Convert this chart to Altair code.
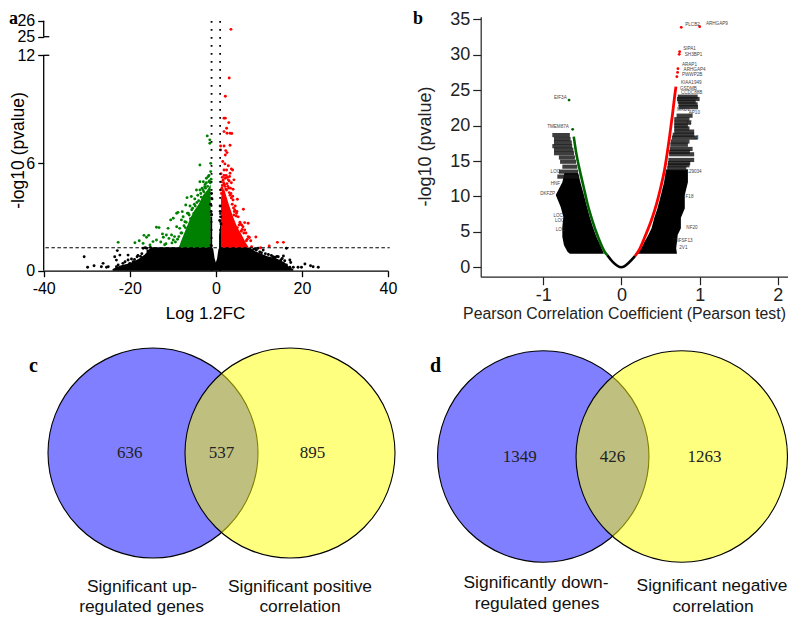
import altair as alt
import pandas as pd

# ---------- panel a values (log 1.2 FC, -log10 p) ----------
a_green_x = [-22.7,-18.8,-17.8,-16.9,-16.1,-16.7,-15.6,-15.3,-13.8,-13.2,-13.8,-14.6,-12.2,-11.5,-11.1,-10.3,-9.9,-10.5,-9.9,-9.1,-8.8,-7.8,-7.6,-8.0,-7.2,-9.1,-8.4,-7.0,-6.7,-5.7,-4.9,-3.7,-2.9,-2.2,-1.8,-1.2,-3.7,-1.2,-2.0,-1.4,-1.4,-2.6,-3.7,-4.5,-5.4,-6.4,-5.3,-4.2,-3.2,-2.2,-1.5,-1.6,-2.8,-6.0,-5.0,-8.6,-7.9,-9.4,-11.9,-12.8,-6.6,
             -1.3,-1.9,-2.4,-3.0,-3.5,-4.0,-4.8,-5.6,-6.2,-6.9,-7.4,-8.1,-1.1,-1.6,-2.5,-3.4,-4.4,-5.1,-5.9,-7.1,-8.9,-9.6,-10.2,-10.9,-11.6,-12.4]
a_green_y = [1.58,1.56,1.67,1.52,1.86,1.97,1.97,1.43,2.42,2.40,1.71,1.62,1.86,1.99,2.36,1.99,1.71,2.83,2.92,3.20,3.25,3.29,3.01,2.83,2.73,2.45,2.36,3.66,4.07,4.13,4.0,4.96,4.96,5.15,5.24,5.52,5.89,5.98,7.51,7.1,7.29,4.68,4.5,4.5,3.48,3.2,3.0,4.2,4.6,4.9,5.0,5.3,4.4,3.6,3.7,1.9,2.1,1.6,1.45,1.6,3.2,
             4.9,4.7,4.6,4.5,4.3,3.9,3.6,3.4,3.1,2.7,2.5,2.1,5.1,4.95,4.8,4.1,3.8,3.2,2.9,2.4,1.75,1.9,1.55,1.8,1.5,2.05]
a_red_x = [3.5,3.1,2.2,1.9,2.2,3.0,2.5,1.9,2.6,3.3,3.7,1.1,1.9,3.3,1.1,2.3,2.6,2.2,1.6,2.1,2.9,3.6,3.3,3.9,1.9,2.5,4.2,3.6,2.9,4.0,5.0,6.4,4.4,4.8,4.0,6.7,7.5,6.0,6.7,7.5,9.3,8.1,7.1,14.3,15.7,12.4,10.4,8.3,1.5,2.4,3.1,2.0,1.4,3.0,2.5,3.5,1.3,3.8,4.5,4.2,5.2,5.6,5.0,6.1,
           1.2,1.3,1.5,1.7,1.8,2.1,2.3,2.6,2.8,3.1,3.3,3.4,3.6,1.2,1.6,1.9,2.2,2.7,3.2,3.9,4.1,4.3,4.7,4.9,5.4,5.7,5.9,6.3,6.5,7.0,7.3,7.8]
a_red_y = [25.46,10.74,9.72,8.5,8.5,8.25,7.94,7.75,7.66,7.66,7.64,6.95,6.95,6.99,6.73,6.69,6.58,6.45,6.08,5.95,5.85,5.67,5.43,5.61,5.61,5.61,5.06,4.9,5.06,4.54,3.98,3.42,3.38,3.2,3.94,2.68,2.64,2.55,2.27,1.9,1.88,1.67,1.67,1.58,1.58,1.38,1.28,1.34,5.2,5.3,5.0,4.8,4.6,4.6,4.5,4.3,4.3,3.7,3.6,3.1,3.0,2.7,2.4,2.3,
           5.4,4.95,4.75,5.05,4.9,4.7,4.55,4.85,4.7,4.35,4.2,4.6,4.05,4.5,4.3,5.3,5.15,5.2,5.25,4.15,3.5,3.3,3.05,3.3,2.55,2.6,2.2,2.45,2.1,2.1,1.75,1.85]
a_black_x = [-30.6,-29.8,-28.3,-26.6,-26.2,-25.4,-25,-23.5,-23.1,-22.9,-22.3,-20.4,-22.7,-20,-23.1,-20.4,-21.6,-19.2,-18.3,-16.9,16.4,15.7,17.2,17.4,16.4,17.2,18,19.1,19.9,20.7,22,22.6,23.8,11,9.8,14.5,13.3,-17.5,-15.8,-16.4,-18.9,8.8,9.4,10.6,12.2,13.8,15.1,-1.1,-1.0,-1.2,-0.9,1.1,1.0,0.9,1.2,-1.0,-1.1,1.0,
             -18.1,-17.2,-19.6,-21.1,-16.1,-15.2,9.1,10.2,11.5,12.9,14.2,15.4,16.0]
a_black_y = [0.78,0.19,0.28,0.22,0.41,0.19,0.22,0.78,0.59,1.12,0.87,0.87,0.32,0.41,0.22,0.6,0.41,0.5,0.78,1.25,1.25,0.82,0.6,0.46,0.32,0.19,0.19,0.19,0.19,0.37,0.28,0.22,0.19,1.15,1.25,0.78,0.78,0.8,1.1,1.28,0.62,1.2,1.15,1.0,0.9,0.75,0.6,3.3,3.1,3.7,4.0,3.0,3.3,2.8,2.6,4.3,1.4,3.6,
             0.85,0.95,0.65,0.5,1.25,1.3,1.22,1.05,0.95,0.85,0.8,0.68,0.55]
# envelope of the solid black band
a_band_x = [-24,-22,-20,-18,-16.5,-15.5,-15,-8,-2,-0.9,-0.6,-0.3,0,0.3,0.6,0.9,2,6,8,9,10,12,14,16,17,18]
a_band_y = [0.1,0.3,0.42,0.65,0.9,1.2,1.3,1.3,1.3,1.3,1.2,0.7,0.45,0.7,1.2,1.3,1.3,1.3,1.28,1.1,1.0,0.8,0.7,0.45,0.2,0.1]
# envelopes of the solid wedges
a_gw_x = [-8.6,-8,-7,-6,-5,-4,-3,-2,-1.2]
a_gw_y = [1.3,1.7,2.3,2.9,3.35,3.7,4.2,4.5,4.8]
a_rw_x = [1.2,1.5,2,3,4,5,6,7,7.6]
a_rw_y = [4.0,4.6,4.5,3.7,3.0,2.4,2.0,1.55,1.3]
a_strip_x = [-1.25,-0.85]
a_strip_y = [3.0,3.0]
a_strip2_x = [0.75,1.2]
a_strip2_y = [2.0,2.9]
a_xticks = [-40,-20,0,20,40]
a_yticks = [0,6,12,25,26]
a_cut = 1.28
a_fc = [-1,1]

# ---------- panel b values (Pearson r, -log10 p) ----------
b_green_x = [-0.61,-0.578,-0.533,-0.485,-0.435,-0.375,-0.30,-0.215,-0.18]
b_green_y = [18.44,16.1,13.7,11.4,9.0,6.7,4.3,2.2,1.7]
b_green_px = [-0.67,-0.624]
b_green_py = [23.6,19.47]
b_base_x = [-0.18,-0.115,0,0.09,0.175]
b_base_y = [1.7,0.8,0,0.6,1.6]
b_red_x = [0.175,0.226,0.30,0.385,0.45,0.505,0.55,0.585,0.615,0.654,0.68,0.697]
b_red_y = [1.6,2.45,4.3,6.7,9.0,11.4,13.7,16.1,18.4,21.7,24.1,25.5]
b_red_px = [0.709,0.718,0.722,0.739,0.744,0.765,1.0]
b_red_py = [26.9,27.5,28.03,30.06,30.43,33.87,33.96]
# solid cloud edges
b_lc_y = [1.9,2.2,3.1,4.3,5.7,7.1,8.5,10.2,12,13.3]
b_lc_l = [-0.66,-0.69,-0.735,-0.756,-0.756,-0.743,-0.777,-0.84,-0.756,-0.73]
b_lc_r = [-0.225,-0.235,-0.27,-0.32,-0.365,-0.405,-0.44,-0.48,-0.525,-0.555]
b_rc_y = [1.9,2.7,3.6,4.6,5.5,7.0,8.3,10.2,12,13.8]
b_rc_l = [0.205,0.255,0.295,0.345,0.385,0.42,0.46,0.505,0.545,0.57]
b_rc_r = [0.71,0.70,0.71,0.72,0.76,0.76,0.81,0.81,0.85,0.85]
# rows of overprinted gene names
b_lrow_y = [18.66,18.1,17.6,17.1,16.6,16.1,15.5,14.9,14.2,13.5,12.8]
b_lrow_l = [-0.884,-0.863,-0.863,-0.884,-0.863,-0.863,-0.80,-0.785,-0.756,-0.80,-0.82]
b_lrow_r = [-0.66,-0.65,-0.635,-0.63,-0.615,-0.606,-0.595,-0.58,-0.565,-0.555,-0.54]
b_rrow_y = [24.08,23.75,23.38,23.0,22.6,21.4,20.9,20.4,20.0,19.6,19.15,18.7,18.3,17.75,17.3,16.7,16.3,15.95,15.15,14.7,14.4,13.97]
b_rrow_l = [0.72,0.71,0.72,0.73,0.73,0.705,0.675,0.675,0.675,0.675,0.675,0.655,0.645,0.63,0.625,0.62,0.61,0.61,0.60,0.595,0.59,0.585]
b_rrow_r = [0.975,1.0,0.95,0.975,0.98,0.91,0.87,0.89,0.85,0.87,0.93,0.93,0.975,0.87,0.85,0.91,0.875,0.93,0.93,0.88,0.87,0.83]
b_names = ["ARHGAP9","PLCB2","SIPA1","SH3BP1","ARAP1","ARHGAP4","PWWP2B","KIAA1949","GSDMB","CCDC88B","EIF3A","TMEM87A","DKFZP","LOC","TNFSF13","NF20","MXD1","AP10","129034","LOC","LOC","LOC","HNF","F18","2V1","F2","L3"]
b_lab_x = [1.08,0.816,0.79,0.81,0.773,0.795,0.773,0.76,0.748,0.76,-0.863,-0.95,-1.04,-0.906,0.654,0.83,0.71,0.86,0.83,-0.87,-0.85,-0.84,-0.905,0.82,0.74,0.83,0.92]
b_lab_y = [34.3,34.15,30.85,30.0,28.6,27.85,27.1,26.05,25.2,24.6,23.94,19.8,10.3,13.4,3.67,5.5,22.2,21.8,13.4,7.3,6.5,5.2,11.8,9.9,2.7,20.4,18.3]
b_xticks = [-1,0,1,2]
b_yticks = [0,5,10,15,20,25,30,35]

# ---------- Venn counts ----------
c_counts = [636,537,895]
d_counts = [1349,426,1263]
venn_text_pos = [-1.34,0,1.33]
venn_circle_pos = [-1,1]
venn_colors = ["#0000ff","#ffff00"]

PT = "Liberation Sans"
NOFMT = "toString(datum.value)"

def xs(dom, rng, f, **kw):
    return alt.X(f, type="quantitative", scale=alt.Scale(domain=dom, range=rng, nice=False, zero=False), **kw)

def ys(dom, rng, f, **kw):
    return alt.Y(f, type="quantitative", scale=alt.Scale(domain=dom, range=rng, nice=False, zero=False), **kw)

AXD, AXR = [-40,40], [35.7,380]
AYD, AYR = [0,12,25,26], [262.7,47.3,28.7,12.7]
def ax(f="x", **k):
    k.setdefault("axis", None)
    return xs(AXD, AXR, f, **k)
def ay(f="y", **k):
    k.setdefault("axis", None)
    return ys(AYD, AYR, f, **k)

BXD, BXR = [-1.8,2.13], [472.7,780]
BYD, BYR = [-1.33,35.37], [268.7,8.7]
def bx(f="x", **k):
    k.setdefault("axis", None)
    return xs(BXD, BXR, f, **k)
def by(f="y", **k):
    k.setdefault("axis", None)
    return ys(BYD, BYR, f, **k)

H = 609
W = 780
layers = []

def df(**k):
    return pd.DataFrame(k)

# ---- panel a
def a_area(x, y, color):
    return alt.Chart(df(x=x, y=y, y0=[0.0 if color == "black" else 1.28]*len(x))).mark_area(color=color).encode(
        x=ax(), y=ay(), y2="y0:Q")

layers += [
    a_area(a_band_x, a_band_y, "black"),
    a_area(a_gw_x, a_gw_y, "#008000"),
    a_area(a_rw_x, a_rw_y, "#ff0000"),
    a_area(a_strip_x, a_strip_y, "black"),
    a_area(a_strip2_x, a_strip2_y, "black"),
]
for xv, yv, col in [(a_black_x, a_black_y, "black"), (a_green_x, a_green_y, "#008000"), (a_red_x, a_red_y, "#ff0000")]:
    layers.append(alt.Chart(df(x=xv, y=yv)).mark_circle(size=8.5, color=col, opacity=1).encode(x=ax(), y=ay()))

layers.append(alt.Chart(df(y=[a_cut], x=[-39.6], x2=[40.4])).mark_rule(color="black", strokeWidth=1.1, strokeDash=[3.5, 2.5]).encode(
    x=ax(), x2="x2:Q", y=ay()))
layers.append(alt.Chart(df(x=a_fc, y=[0,0], y2=[26,26])).mark_rule(color="black", strokeWidth=1.8, strokeDash=[1.8, 6.2]).encode(
    x=ax(), y=ay(), y2="y2:Q"))

layers.append(alt.Chart(df(x=[-40,-40], y=[0,25], y2=[12,26])).mark_rule(color="black", strokeWidth=1.3).encode(
    x=ax(), y=ay(), y2="y2:Q"))
layers.append(alt.Chart(df(x=[-40,-40], x2=[-38.7,-38.7], y=[12,25])).mark_rule(color="black", strokeWidth=1.3).encode(
    x=ax(), x2="x2:Q", y=ay()))
layers.append(alt.Chart(df(x=[0.0], y=[0.0])).mark_point(opacity=0).encode(
    x=ax(axis=alt.Axis(values=a_xticks, orient="bottom", offset=262.7-H, grid=False, domainColor="black", domainWidth=1.3,
                       tickColor="black", tickWidth=1.3, tickSize=6, labelFont=PT, labelFontSize=16, labelColor="black",
                       labelPadding=4, labelFlush=False, labelExpr=NOFMT, title="Log 1.2FC", titleFont=PT, titleFontSize=17,
                       titleFontWeight="normal", titleColor="black", titleX=197, titleY=35)),
    y=ay(axis=alt.Axis(values=a_yticks, orient="left", offset=-35.7, grid=False, domain=False, tickColor="black", tickWidth=1.3,
                       tickSize=6, labelFont=PT, labelFontSize=16, labelColor="black", labelPadding=3, labelExpr=NOFMT,
                       title="-log10 (pvalue)", titleFont=PT, titleFontSize=17.5, titleFontWeight="normal", titleColor="black",
                       titleX=-16, titleY=142)),
))

# ---- panel b
for yv, l, r in [(b_lc_y, b_lc_l, b_lc_r), (b_rc_y, b_rc_l, b_rc_r)]:
    layers.append(alt.Chart(df(y=yv, l=l, r=r)).mark_area(color="black", orient="horizontal").encode(
        x=bx("l"), x2="r:Q", y=by()))
for yv, l, r in [(b_lrow_y, b_lrow_l, b_lrow_r), (b_rrow_y, b_rrow_l, b_rrow_r)]:
    layers.append(alt.Chart(df(y=yv, l=l, r=r)).mark_rule(color="#141414", strokeWidth=4.2, opacity=0.82).encode(
        x=bx("l"), x2="r:Q", y=by()))
for xv, yv, col, w in [(b_green_x, b_green_y, "#006400", 2.6), (b_base_x, b_base_y, "black", 2.6), (b_red_x, b_red_y, "#ff0000", 2.8)]:
    layers.append(alt.Chart(df(x=xv, y=yv)).mark_line(color=col, strokeWidth=w, interpolate="monotone").encode(
        x=bx(), y=by(), order="x:Q"))
layers.append(alt.Chart(df(x=b_green_px, y=b_green_py)).mark_circle(size=8, color="#006400", opacity=1).encode(x=bx(), y=by()))
layers.append(alt.Chart(df(x=b_red_px, y=b_red_py)).mark_circle(size=8, color="#ff0000", opacity=1).encode(x=bx(), y=by()))
layers.append(alt.Chart(df(x=b_lab_x, y=b_lab_y, t=b_names)).mark_text(font=PT, fontSize=4.6, align="left", color="#222222", opacity=0.85).encode(
    x=bx(), y=by(), text="t:N"))
layers.append(alt.Chart(df(x=[0.0], y=[0.0])).mark_point(opacity=0).encode(
    x=bx(axis=alt.Axis(values=b_xticks, orient="bottom", offset=268.7-H, grid=False, domainColor="#222222", domainWidth=1.2,
                       tickColor="#222222", tickWidth=1.2, tickSize=8, labelFont=PT, labelFontSize=18, labelColor="#222222",
                       labelPadding=2, labelFlush=False, labelExpr=NOFMT, title="Pearson Correlation Coefficient (Pearson test)", titleFont=PT,
                       titleFontSize=15.8, titleFontWeight="normal", titleColor="#222222", titleX=616, titleY=30)),
    y=by(axis=alt.Axis(values=b_yticks, orient="left", offset=-472.7, grid=False, domainColor="#222222", domainWidth=1.2,
                       tickColor="#222222", tickWidth=1.2, tickSize=8, labelFont=PT, labelFontSize=18, labelColor="#222222",
                       labelPadding=3, labelExpr=NOFMT, title="-log10 (pvalue)", titleFont=PT, titleFontSize=18, titleFontWeight="normal",
                       titleColor="#222222", titleX=-46, titleY=138)),
))

# ---- Venn panels
def venn(counts, cx, unit, cy, size):
    rng = [cx - unit - 8, cx + unit - 8]
    out = []
    for pos, col in zip(venn_circle_pos, venn_colors):
        out.append(alt.Chart(df(x=[pos], y=[0])).mark_circle(fill=col, fillOpacity=0.5, stroke="black", strokeWidth=1.1).encode(
            x=xs([-1,1], rng, "x", axis=None), y=ys([-1,1], [cy-8+1, cy-8-1], "y", axis=None), size=alt.value(size)))
    out.append(alt.Chart(df(x=venn_text_pos, y=[0,0,0], t=counts)).mark_text(font="Liberation Serif", fontSize=17, color="#222222").encode(
        x=xs([-1,1], rng, "x", axis=None), y=ys([-1,1], [cy-8+1, cy-8-1], "y", axis=None), text="t:N"))
    return out

layers += venn(c_counts, 221.5, 68.5, 453, 44100)
layers += venn(d_counts, 612.5, 69.25, 456.5, 44700)

# ---- captions and panel letters
caps = [("Significant up-", 142, 587), ("regulated genes", 141.5, 607), ("Significant positive", 300, 587), ("correlation", 300, 607),
        ("Significantly down-", 536, 583), ("regulated genes", 537, 604), ("Significant  negative", 712, 586), ("correlation", 713, 607)]
for t, x, y in caps:
    layers.append(alt.Chart(df(t=[t])).mark_text(font=PT, fontSize=17.4, color="#111111").encode(
        text="t:N", x=alt.value(x-8), y=alt.value(y-8)))
for t, x, y, s in [("a", 1, 16, 18), ("b", 405, 16, 18), ("c", 21, 364, 20), ("d", 422, 364, 20)]:
    layers.append(alt.Chart(df(t=[t])).mark_text(font="Liberation Serif", fontWeight="bold", fontSize=s, color="black", align="left", baseline="alphabetic").encode(
        text="t:N", x=alt.value(x), y=alt.value(y)))

chart = alt.layer(*layers).resolve_scale(x="independent", y="independent", size="independent").properties(
    width=W, height=H, padding=0, autosize=alt.AutoSizeParams(type="none", contains="padding"),
    background="white").configure_view(stroke=None)

chart.save("out.html", embed_options={"renderer": "svg", "actions": False})
